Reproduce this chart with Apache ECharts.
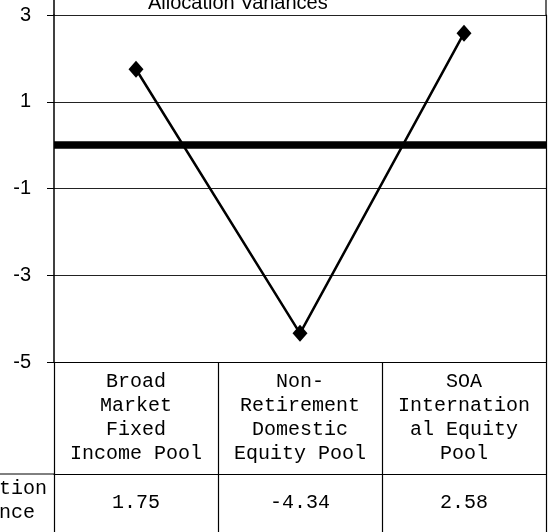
<!DOCTYPE html>
<html><head><meta charset="utf-8">
<script src="https://cdn.jsdelivr.net/npm/echarts@6/dist/echarts.min.js"></script>
<style>html,body{margin:0;padding:0;background:#fff}#c{width:554px;height:532px}</style>
</head><body><div id="c"></div>
<script>
const categories = ['Broad\nMarket\nFixed\nIncome Pool', 'Non-\nRetirement\nDomestic\nEquity Pool', 'SOA\nInternation\nal Equity\nPool'];
const variances = [1.75, -4.34, 2.58];
const valueLabels = ['1.75', '-4.34', '2.58'];
const yTicks = [-5, -3, -1, 1, 3];
const titleText = 'Allocation Variances';
const rowLabel = 'Allocation\nVariance';

const GL = 54, GR = 546, GT = 15, GB = 362, ROW2 = 474, H = 532;
const mono = 'Liberation Mono';
const sans = 'Liberation Sans';

const chart = echarts.init(document.getElementById('c'), null, {renderer: 'canvas'});
chart.setOption({
  animation: false,
  backgroundColor: '#fff',
  title: {
    text: titleText, left: 143, top: -12,
    textStyle: {fontFamily: sans, fontSize: 20, fontWeight: 'normal', color: '#000'}
  },
  grid: {left: GL, right: 554 - GR, top: GT, bottom: 532 - GB, containLabel: false},
  xAxis: [{
    type: 'category', data: categories, boundaryGap: true, position: 'bottom',
    axisLine: {show: true, onZero: false, lineStyle: {color: '#000', width: 1}},
    axisTick: {show: true, interval: 0, length: H - GB, lineStyle: {color: '#000', width: 1.2}},
    axisLabel: {interval: 0, margin: 8, fontFamily: mono, fontSize: 20, lineHeight: 24, color: '#000', align: 'center'},
    splitLine: {show: false}
  }, {
    type: 'category', data: valueLabels, boundaryGap: true, position: 'bottom', offset: ROW2 - GB,
    axisLine: {show: true, onZero: false, lineStyle: {color: '#000', width: 1}},
    axisTick: {show: false},
    axisLabel: {interval: 0, margin: 17, fontFamily: mono, fontSize: 20, lineHeight: 24, color: '#000'},
    splitLine: {show: false}
  }],
  yAxis: [{
    type: 'value', min: yTicks[0], max: yTicks[yTicks.length - 1], interval: 2,
    axisLine: {show: true, onZero: false, lineStyle: {color: '#000', width: 1.5}},
    axisTick: {show: true, inside: false, length: 7, lineStyle: {color: '#000', width: 1}},
    axisLabel: {margin: 23, fontFamily: sans, fontSize: 20, color: '#000'},
    splitLine: {show: true, lineStyle: {color: '#222', width: 1}}
  }, {
    type: 'value', position: 'right', min: yTicks[0], max: yTicks[yTicks.length - 1], interval: 2,
    axisLine: {show: true, onZero: false, lineStyle: {color: '#000', width: 1.2}},
    axisTick: {show: false}, axisLabel: {show: false}, splitLine: {show: false}
  }],
  series: [{
    type: 'line', data: variances, xAxisIndex: 0, yAxisIndex: 0,
    symbol: 'diamond', symbolSize: [15, 17],
    lineStyle: {color: '#000', width: 2.5},
    itemStyle: {color: '#000'},
    markLine: {
      silent: true, symbol: ['none', 'none'], label: {show: false},
      lineStyle: {color: '#000', width: 7.5, type: 'solid'},
      data: [{yAxis: 0}]
    }
  }],
  graphic: [
    {type: 'line', shape: {x1: GL, y1: 0, x2: GL, y2: GT}, style: {stroke: '#000', lineWidth: 1.5}},
    {type: 'line', shape: {x1: GR, y1: 0, x2: GR, y2: GT}, style: {stroke: '#000', lineWidth: 1.2}},
    {type: 'line', shape: {x1: 0, y1: ROW2, x2: GL, y2: ROW2}, style: {stroke: '#000', lineWidth: 1}},
    {type: 'text', x: -13, y: 501, style: {text: rowLabel, font: '20px "Liberation Mono"', fill: '#000', align: 'center', verticalAlign: 'middle', lineHeight: 24}}
  ]
});
</script></body></html>
